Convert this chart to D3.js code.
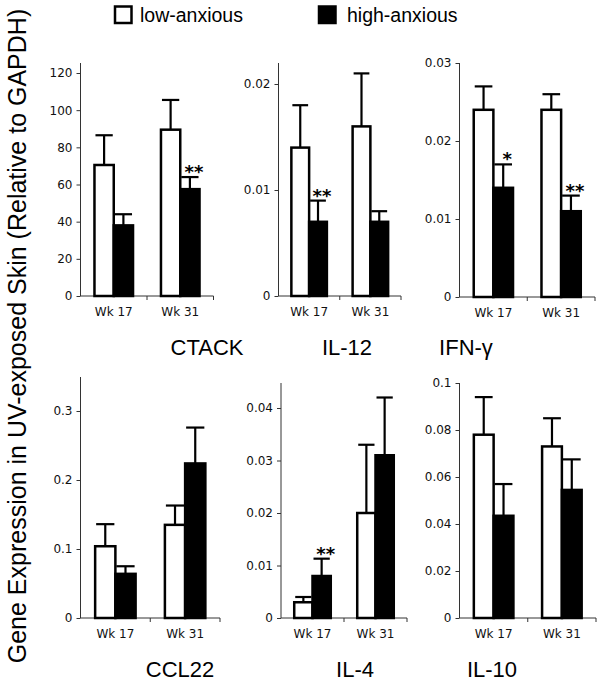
<!DOCTYPE html>
<html><head><meta charset="utf-8">
<script src="https://cdn.jsdelivr.net/npm/d3@7"></script>
<style>body{margin:0;background:#fff}svg{display:block}</style>
</head><body>
<svg id="c" width="600" height="687"></svg>
<script>
// ---- data ----
const categories = ["Wk 17", "Wk 31"];
const series = ["low-anxious", "high-anxious"];
const genes = ["CTACK", "IL-12", "IFN-γ", "CCL22", "IL-4", "IL-10"];
const lowMean  = [[70.5, 89.5], [0.014, 0.016], [0.024, 0.024], [0.104, 0.135], [0.003, 0.020], [0.078, 0.073]];
const lowErr   = [[16, 16], [0.004, 0.005], [0.003, 0.002], [0.032, 0.028], [0.001, 0.013], [0.016, 0.012]];
const highMean = [[38, 57.5], [0.007, 0.007], [0.014, 0.011], [0.064, 0.224], [0.008, 0.031], [0.0435, 0.0545]];
const highErr  = [[6, 6.5], [0.002, 0.001], [0.003, 0.002], [0.011, 0.052], [0.0033, 0.011], [0.0135, 0.013]];
const stars    = [["", "**"], ["**", ""], ["*", "**"], ["", ""], ["**", ""], ["", ""]];
const tickVals = [[0, 20, 40, 60, 80, 100, 120], [0, 0.01, 0.02], [0, 0.01, 0.02, 0.03],
                  [0, 0.1, 0.2, 0.3], [0, 0.01, 0.02, 0.03, 0.04], [0, 0.02, 0.04, 0.06, 0.08, 0.1]];
const yLabel = "Gene Expression in UV-exposed Skin (Relative to GAPDH)";

// ---- layout (pixel frames of each panel) ----
const frames = [
  {ax: 80.5, x1: 213.5, y0: 296, yMaxPx: 73, top: 63, titleX: 207, titleY: 355},
  {ax: 278.5, x1: 401, y0: 296, yMaxPx: 84, top: 63, titleX: 347, titleY: 355},
  {ax: 459.5, x1: 595, y0: 297, yMaxPx: 63, top: 63, titleX: 466, titleY: 355},
  {ax: 80.5, x1: 220, y0: 618, yMaxPx: 411, top: 377, titleX: 180, titleY: 677},
  {ax: 281, x1: 407, y0: 618, yMaxPx: 408, top: 383, titleX: 355, titleY: 677},
  {ax: 459.5, x1: 596, y0: 618, yMaxPx: 383, top: 383, titleX: 492, titleY: 677}
];

const svg = d3.select("#c");
const fmt = v => v === 0 ? "0" : d3.format("~g")(v);

genes.forEach((gene, i) => {
  const f = frames[i];
  const tv = tickVals[i];
  const y = d3.scaleLinear().domain([0, tv[tv.length - 1]]).range([f.y0, f.yMaxPx]);
  const x = d3.scaleBand().domain(categories).range([f.ax, f.x1]);
  const bw = x.bandwidth() * 0.29;
  const g = svg.append("g");

  // y axis
  const yAx = g.append("g").attr("transform", `translate(${f.ax},0)`)
    .call(d3.axisLeft(y).tickValues(tv).tickFormat(fmt).tickSize(4).tickPadding(4).tickSizeOuter(0));
  yAx.select(".domain").attr("d", `M0,${f.y0}V${f.top}`).attr("stroke", "#333");
  yAx.selectAll(".tick line").attr("stroke", "#333");
  yAx.selectAll("text").attr("font-family", "DejaVu Sans").attr("font-size", 12).attr("fill", "#111");

  // x axis
  const xAx = g.append("g").attr("transform", `translate(0,${f.y0})`)
    .call(d3.axisBottom(x).tickSize(0).tickPadding(11));
  xAx.select(".domain").attr("d", `M${f.ax},0H${f.x1}`).attr("stroke", "#333");
  xAx.selectAll("text").attr("font-family", "DejaVu Sans").attr("font-size", 12).attr("fill", "#111");
  // separator ticks at band boundaries
  xAx.selectAll("line.sep").data([x.range()[0] + x.bandwidth(), f.x1]).enter().append("line")
    .attr("x1", d => d).attr("x2", d => d).attr("y1", 0).attr("y2", 4).attr("stroke", "#333");

  const sub = d3.scaleBand().domain(series).range([-bw, bw]);
  categories.forEach((c, j) => {
    const cx = x(c) + x.bandwidth() / 2;
    const vals = [
      {s: series[0], m: lowMean[i][j], e: lowErr[i][j]},
      {s: series[1], m: highMean[i][j], e: highErr[i][j]}
    ];
    vals.forEach((d, k) => {
      const bx = cx + sub(d.s);
      const w = sub.bandwidth();
      const mid = bx + w / 2;
      // error bar
      g.append("line").attr("x1", mid).attr("x2", mid).attr("y1", y(d.m)).attr("y2", y(d.m + d.e))
        .attr("stroke", "#000").attr("stroke-width", 2.2);
      g.append("line").attr("x1", bx + 1).attr("x2", bx + w - 1).attr("y1", y(d.m + d.e)).attr("y2", y(d.m + d.e))
        .attr("stroke", "#000").attr("stroke-width", 2.2);
      g.append("rect").attr("x", bx).attr("y", y(d.m)).attr("width", w).attr("height", f.y0 - y(d.m))
        .attr("fill", k === 0 ? "#fff" : "#000").attr("stroke", "#000").attr("stroke-width", 2.5);
      if (k === 1 && stars[i][j]) {
        g.append("text").attr("x", mid + 4).attr("y", y(d.m + d.e) + 1)
          .attr("text-anchor", "middle").attr("font-family", "DejaVu Sans").attr("font-weight", "bold")
          .attr("font-size", 18).text(stars[i][j]);
      }
    });
  });

  g.append("text").attr("x", f.titleX).attr("y", f.titleY).attr("text-anchor", "middle")
    .attr("font-family", "Liberation Sans").attr("font-size", 22).text(gene);
});

// legend
const leg = svg.append("g");
const legX = [114, 318], legT = [140, 347];
series.forEach((s, k) => {
  leg.append("rect").attr("x", legX[k] + 1).attr("y", 6.5).attr("width", 16.5).attr("height", 16.5)
    .attr("fill", k === 0 ? "#fff" : "#000").attr("stroke", "#000").attr("stroke-width", 2.5);
  leg.append("text").attr("x", legT[k]).attr("y", 22).attr("font-family", "Liberation Sans")
    .attr("font-size", 19.5).text(s);
});

// y label
svg.append("text").attr("transform", "translate(26,336) rotate(-90)").attr("text-anchor", "middle")
  .attr("font-family", "Liberation Sans").attr("font-size", 25).text(yLabel);
</script>
</body></html>
